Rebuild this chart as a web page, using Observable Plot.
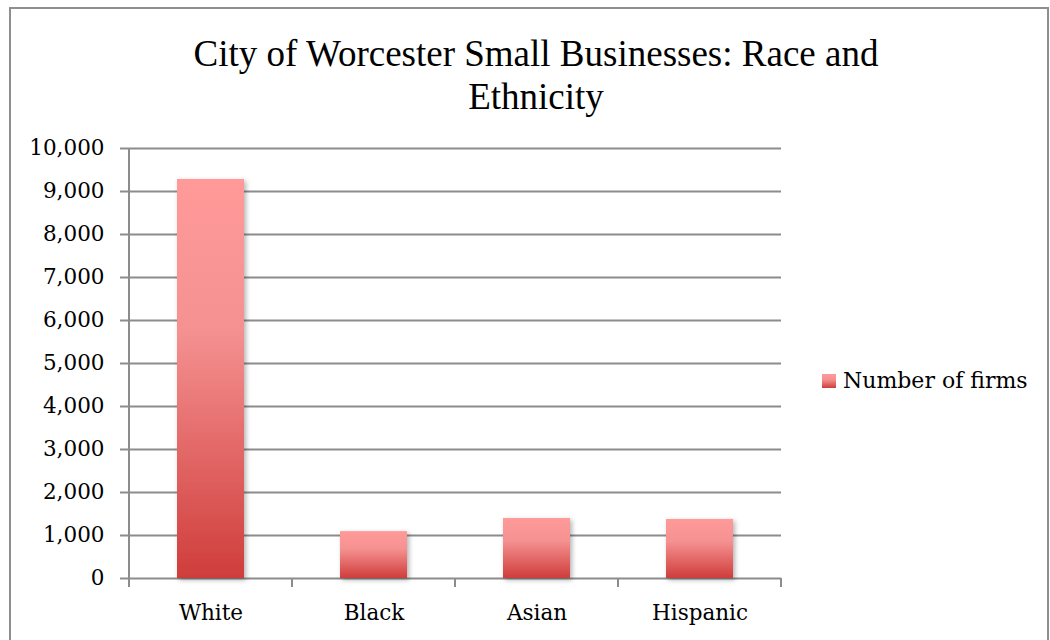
<!DOCTYPE html>
<html><head><meta charset="utf-8">
<script src="https://cdn.jsdelivr.net/npm/d3@7"></script>
<script src="https://cdn.jsdelivr.net/npm/@observablehq/plot@0.6"></script>
<style>
body{margin:0;background:#fff;}
#wrap{position:relative;width:1050px;height:640px;overflow:hidden;background:#fff;}
#frame{position:absolute;left:9px;top:7px;width:1036px;height:700px;border:2px solid #8e8e8e;}
#title{position:absolute;left:86px;width:900px;top:32px;text-align:center;font-family:"Liberation Serif",serif;font-size:37px;line-height:43px;color:#000;}
#legend{position:absolute;left:822px;top:368px;font-family:"DejaVu Serif",serif;font-size:22px;color:#000;display:flex;align-items:center;}
#legend .sw{width:14px;height:14px;background:linear-gradient(#ff9a99,#f39090 40%,#cf3d3b);margin-right:7px;}
#chart{position:absolute;left:0;top:0;}
g[aria-label="bar"] rect{fill:url(#barGrad);filter:url(#shadow);}
</style></head>
<body>
<div id="wrap">
<div id="frame"></div>
<svg width="0" height="0" style="position:absolute">
<defs>
<linearGradient id="barGrad" x1="0" y1="0" x2="0" y2="1">
<stop offset="0" stop-color="#ff9a99"/>
<stop offset="0.38" stop-color="#f59191"/>
<stop offset="1" stop-color="#cf3d3b"/>
</linearGradient>
<filter id="shadow" x="-20%" y="-20%" width="150%" height="150%">
<feDropShadow dx="2" dy="2" stdDeviation="2.5" flood-color="#000" flood-opacity="0.3"/>
</filter>
</defs>
</svg>
<div id="chart"></div>
<div id="title">City of Worcester Small Businesses: Race and<br>Ethnicity</div>
<div id="legend"><div class="sw"></div><span>Number of firms</span></div>
</div>
<script>
const categories = ["White", "Black", "Asian", "Hispanic"];
const firms = [9280, 1090, 1395, 1372];
const yTicks = [0, 1000, 2000, 3000, 4000, 5000, 6000, 7000, 8000, 9000, 10000];
const seriesName = "Number of firms";

const data = categories.map((c, i) => ({category: c, value: firms[i]}));
const axisColor = "#8c8c8c";

function frameLines(index, scales, values, dims) {
  const svgNS = "http://www.w3.org/2000/svg";
  const g = document.createElementNS(svgNS, "g");
  const sx = scales.x, sy = scales.y;
  const bw = typeof sx.bandwidth === "function" ? sx.bandwidth() : sx.bandwidth;
  const step = sx(categories[1]) - sx(categories[0]);
  const y0 = sy(0), yTop = sy(yTicks[yTicks.length - 1]);
  const bounds = categories.map(c => sx(c) + bw / 2 - step / 2);
  bounds.push(sx(categories[categories.length - 1]) + bw / 2 + step / 2);
  const left = bounds[0];
  const add = (x1, y1, x2, y2) => {
    const l = document.createElementNS(svgNS, "line");
    l.setAttribute("x1", x1); l.setAttribute("y1", y1);
    l.setAttribute("x2", x2); l.setAttribute("y2", y2);
    l.setAttribute("stroke", axisColor); l.setAttribute("stroke-width", 2);
    g.appendChild(l);
  };
  add(left, yTop, left, y0);
  bounds.forEach(b => add(b, y0, b, y0 + 9));
  return g;
}

const plot = Plot.plot({
  width: 1050,
  height: 640,
  marginLeft: 129,
  marginRight: 269,
  marginTop: 148,
  marginBottom: 62,
  style: {fontFamily: "'DejaVu Serif', serif", fontSize: "21.5px", color: "#000", background: "transparent"},
  x: {domain: categories, paddingInner: 0.59, paddingOuter: 0.295, label: null},
  y: {domain: [0, 10000], label: null},
  marks: [
    Plot.ruleY(yTicks, {stroke: axisColor, strokeWidth: 2, strokeOpacity: 1}),
    Plot.barY(data, {x: "category", y: "value", fill: "#e06060"}),
    frameLines,
    Plot.axisY({ticks: yTicks, tickFormat: d3.format(","), tickSize: 9, tickPadding: 16, stroke: axisColor, strokeWidth: 2, strokeOpacity: 1, fill: "#000", label: null}),
    Plot.axisX({tickSize: 0, tickPadding: 26, fill: "#000", label: null})
  ]
});
plot.style.overflow = "visible";
document.getElementById("chart").appendChild(plot);
</script>
</body></html>
